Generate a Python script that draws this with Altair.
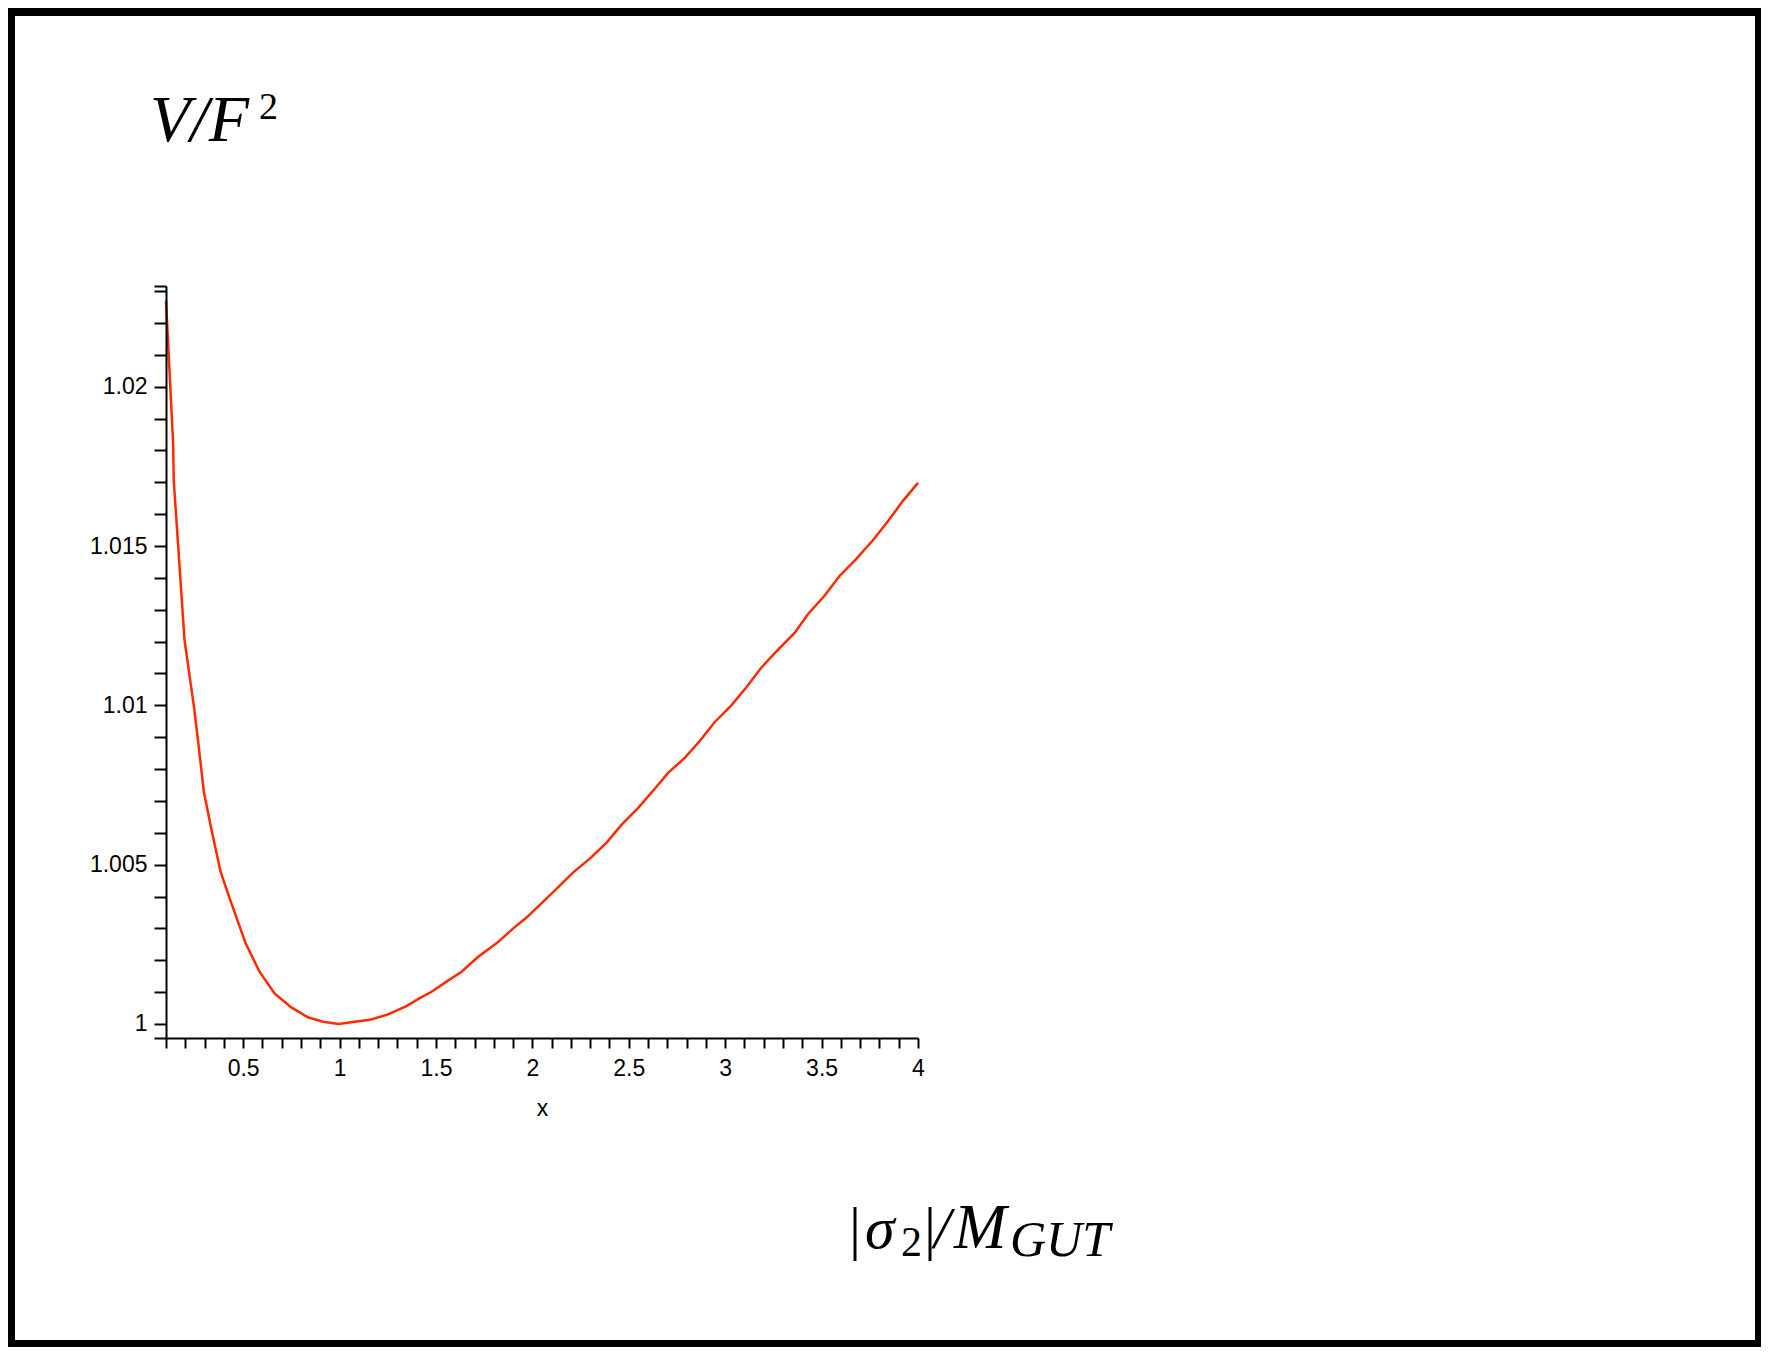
import altair as alt
import pandas as pd

# ---- data ----
x_values = [0.100, 0.137, 0.140, 0.196, 0.245, 0.268, 0.296, 0.340, 0.383, 0.430,
            0.513, 0.585, 0.663, 0.750, 0.836, 0.914, 0.996, 1.157, 1.252, 1.347,
            1.407, 1.477, 1.555, 1.633, 1.719, 1.814, 1.901, 1.970, 2.039, 2.125,
            2.212, 2.298, 2.385, 2.462, 2.549, 2.626, 2.704, 2.790, 2.868, 2.945,
            3.032, 3.109, 3.187, 3.273, 3.360, 3.429, 3.515, 3.593, 3.679, 3.766,
            3.843, 3.921, 4.000]
v_values = [1.02270, 1.01822, 1.01707, 1.01205, 1.00995, 1.00880, 1.00729, 1.00598, 1.00478, 1.00394,
            1.00253, 1.00164, 1.00096, 1.00052, 1.00021, 1.00007, 1.00000, 1.00013, 1.00030, 1.00056,
            1.00078, 1.00101, 1.00133, 1.00164, 1.00211, 1.00253, 1.00300, 1.00334, 1.00374, 1.00424,
            1.00476, 1.00519, 1.00569, 1.00625, 1.00678, 1.00732, 1.00788, 1.00835, 1.00888, 1.00947,
            1.01000, 1.01056, 1.01118, 1.01174, 1.01227, 1.01286, 1.01344, 1.01406, 1.01459, 1.01518,
            1.01577, 1.01641, 1.01698]

x_domain = [0.1, 4.0]
y_domain = [0.99956, 1.02316]

x_ticks = [0.1, 0.2, 0.3, 0.4, 0.5, 0.6, 0.7, 0.8, 0.9, 1.0,
           1.1, 1.2, 1.3, 1.4, 1.5, 1.6, 1.7, 1.8, 1.9, 2.0,
           2.1, 2.2, 2.3, 2.4, 2.5, 2.6, 2.7, 2.8, 2.9, 3.0,
           3.1, 3.2, 3.3, 3.4, 3.5, 3.6, 3.7, 3.8, 3.9, 4.0]
y_ticks = [0.99956, 1.000, 1.001, 1.002, 1.003, 1.004, 1.005, 1.006, 1.007, 1.008,
           1.009, 1.010, 1.011, 1.012, 1.013, 1.014, 1.015, 1.016, 1.017, 1.018,
           1.019, 1.020, 1.021, 1.022, 1.023, 1.02316]

x_axis_title = "x"
v_label_parts = ["V/F", "2"]
s_label_parts = ["|", "σ", "2", "|", "/", "M", "GUT"]

curve = pd.DataFrame({"x": x_values, "v": v_values})
one = pd.DataFrame({"k": [0]})

# page position of the plot area's top-left corner
X0, Y0 = 166, 286
PW, PH = 752, 752


def px(page_x):
    return page_x - X0


def py(page_y):
    return page_y - Y0


frame = alt.Chart(one).mark_rect(color="white").encode(
    x=alt.value(px(15)), x2=alt.value(px(1755)),
    y=alt.value(py(16)), y2=alt.value(py(1340)),
)

common_axis = dict(
    labelFont="Liberation Sans", labelFontSize=23, labelColor="black",
    labelFlush=False, labelOverlap=False,
    tickColor="black", tickWidth=2, domainColor="black", domainWidth=2,
    grid=False, zindex=1,
)

line = alt.Chart(curve).mark_line(color="#ff2a00", strokeWidth=2.5).encode(
    x=alt.X("x:Q", scale=alt.Scale(domain=x_domain, nice=False, zero=False),
            axis=alt.Axis(values=x_ticks, title=x_axis_title,
                          labelExpr="abs(datum.value * 2 - round(datum.value * 2)) < 0.01 ? format(datum.value, '~g') : ''",
                          labelBaseline="alphabetic", labelPadding=27, tickSize=10,
                          titleFont="Liberation Sans", titleFontSize=23, titleFontWeight="normal",
                          titleColor="black", titleBaseline="alphabetic", titleY=77, titleX=PW / 2,
                          **common_axis)),
    y=alt.Y("v:Q", scale=alt.Scale(domain=y_domain, nice=False, zero=False),
            axis=alt.Axis(values=y_ticks, title="",
                          labelExpr="abs(datum.value * 200 - round(datum.value * 200)) < 0.01 ? format(datum.value, '~g') : ''",
                          labelPadding=7, tickSize=12,
                          **common_axis)),
)


def txt(s, page_x, page_y, size, italic):
    return alt.Chart(one).mark_text(
        text=s, align="left", baseline="alphabetic", font="Liberation Serif",
        fontSize=size, fontStyle="italic" if italic else "normal", color="black",
    ).encode(x=alt.value(px(page_x)), y=alt.value(py(page_y)))


texts = [
    txt(v_label_parts[0], 150, 141, 66, True),
    txt(v_label_parts[1], 259, 119, 38, False),
    txt(s_label_parts[0], 849, 1248, 60, False),
    txt(s_label_parts[1], 865, 1248, 60, True),
    txt(s_label_parts[2], 901, 1256, 42, False),
    txt(s_label_parts[3], 924, 1248, 60, False),
    txt(s_label_parts[4], 934, 1248, 60, True),
    txt(s_label_parts[5], 954, 1248, 63, True),
    txt(s_label_parts[6], 1010, 1256, 50, True),
]

chart = alt.layer(frame, line, *texts).properties(
    width=PW, height=PH, background="black",
    padding={"left": X0 - 8, "top": Y0 - 8, "right": 1753 - (X0 - 8) - PW, "bottom": 1339 - (Y0 - 8) - PH},
    autosize=alt.AutoSizeParams(type="none"),
).configure_view(strokeWidth=0)

chart.save("out.html", embed_options={"renderer": "svg", "actions": False})
